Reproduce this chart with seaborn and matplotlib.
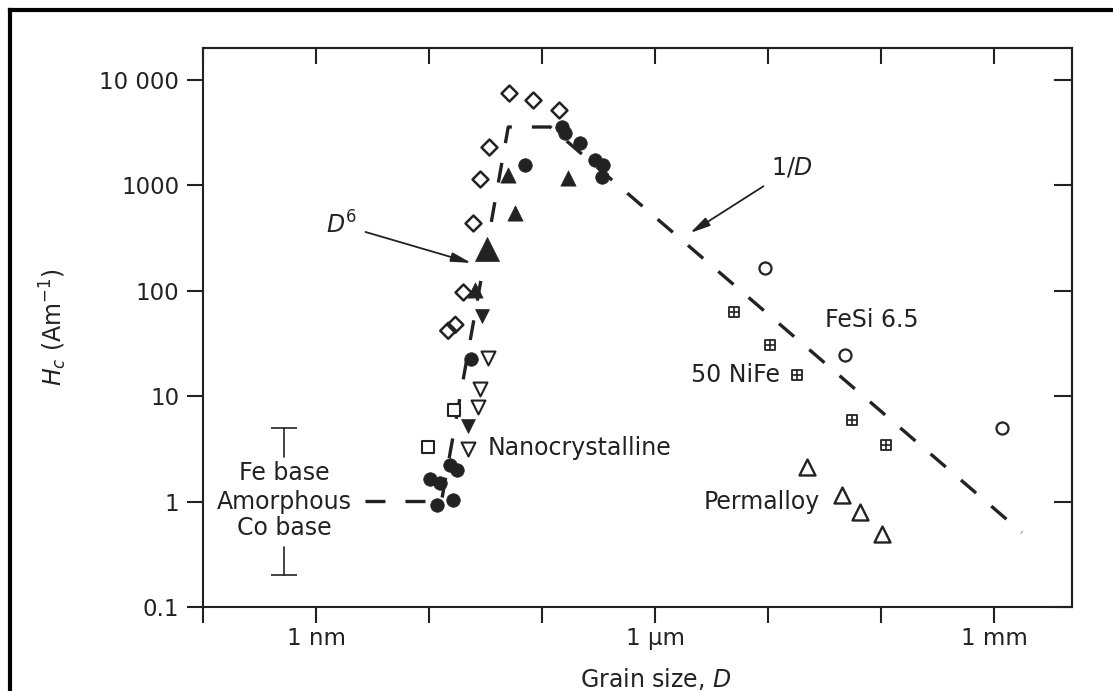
import numpy as np
import pandas as pd
import matplotlib
matplotlib.use("Agg")
import matplotlib.pyplot as plt
from matplotlib.ticker import NullLocator
from matplotlib.lines import Line2D
import seaborn as sns

# ---------------- data: grain size D (nm), coercivity Hc (A/m) ----------------
circ_D = [10.2, 12.5, 15.3, 17.7, 11.8, 16.3, 23.5, 70.8, 150, 160, 217, 294, 347, 340]
circ_H = [1.62, 1.51, 2.24, 2.01, 0.93, 1.04, 22.6, 1550, 3560, 3120, 2510, 1730, 1550, 1200]

tri_D = [25.5, 50.0, 57.7, 170]
tri_H = [102, 1250, 545, 1170]
tri_big_D = [32.6]
tri_big_H = [250]

tri_dn_D = [29.4, 22.1]
tri_dn_H = [57.7, 5.24]

tri_dn_open_D = [33.3, 28.3, 27.2, 22.1]
tri_dn_open_H = [23.1, 11.7, 7.94, 3.18]

sq_open_D = [16.6, 9.8]
sq_open_H = [7.43, 3.32]

dia_D = [51.1, 83.2, 141, 34.0, 28.3, 24.5, 20.0]
dia_H = [7470, 6410, 5150, 2300, 1145, 439, 97.4]
dia_pair_D = [14.7, 17.0]
dia_pair_H = [41.6, 47.4]

nife_D = [5000, 10400, 18060, 55400, 110700]
nife_H = [63, 30.7, 16.0, 5.98, 3.47]

fesi_D = [9400, 48000, 1.18e6]
fesi_H = [164, 24.7, 5.02]

perm_D = [22100, 45100, 65200, 102000]
perm_H = [2.14, 1.16, 0.787, 0.487]

curve_D = [2.72, 12.8, 50, 118, 1.77e6]
curve_H = [1, 1, 3560, 3560, 0.508]

amorph_D = 0.52
amorph_range = [0.2, 5]

x_ticks = [0.1, 1, 10, 100, 1e3, 1e4, 1e5, 1e6]
x_labels = ['', '1 nm', '', '', '1 \u00b5m', '', '', '1 mm']
y_ticks = [0.1, 1, 10, 100, 1000, 10000]
y_labels = ['0.1', '1', '10', '100', '1000', '10 000']

# ---------------- style ----------------
sns.set_style("ticks")
plt.rcParams['font.family'] = ['DejaVu Sans']
plt.rcParams['mathtext.fontset'] = 'dejavusans'
INK = '#222222'
FS = 17

fig = plt.figure(figsize=(11.13, 6.91), dpi=100)
ax = fig.add_axes([0.1828, 0.1216, 0.7803, 0.8090])
ax.set_xscale('log')
ax.set_yscale('log')
ax.set_xlim(0.1, 4.9e6)
ax.set_ylim(0.1, 2.0e4)

# dashed guide curve
sns.lineplot(x=curve_D, y=curve_H, ax=ax, color=INK, lw=2.4,
             linestyle=(0, (6.0, 6.0)), sort=False, errorbar=None, zorder=1)


def pts(D, H, marker, s, face, edge=INK, lw=1.5, z=3):
    sns.scatterplot(x=D, y=H, marker=marker, s=s, color=face, edgecolor=edge,
                    linewidth=lw, ax=ax, zorder=z, legend=False)


pts(circ_D, circ_H, 'o', 95, INK, lw=0.5)
pts(tri_D, tri_H, '^', 120, INK, lw=0.5)
pts(tri_big_D, tri_big_H, '^', 300, INK, lw=0.5)
pts(tri_dn_D, tri_dn_H, 'v', 100, INK, lw=0.5)
pts(tri_dn_open_D, tri_dn_open_H, 'v', 100, 'white', lw=1.5)
pts(sq_open_D, sq_open_H, 's', 63, 'white', lw=1.5)
pts(dia_D, dia_H, 'D', 66, 'white', lw=1.8)
pts(dia_pair_D, dia_pair_H, 'D', 66, 'none', lw=1.8)
pts(nife_D, nife_H, 's', 52, 'white', lw=1.3)
sns.scatterplot(x=nife_D, y=nife_H, marker='+', s=52, color=INK, linewidth=1.2,
                ax=ax, zorder=4, legend=False)
pts(fesi_D, fesi_H, 'o', 75, 'white', lw=1.6)
pts(perm_D, perm_H, '^', 132, 'white', lw=1.7)

# amorphous range bar
ax.plot([amorph_D, amorph_D], [amorph_range[1], 2.67], color=INK, lw=1.2)
ax.plot([amorph_D, amorph_D], [0.367, amorph_range[0]], color=INK, lw=1.2)
ax.plot([amorph_D, amorph_D], amorph_range, ls='none', marker='_', ms=19, mew=1.2, color=INK)

# labels
tk = dict(fontsize=FS, color=INK)
ax.text(amorph_D, 1.88, 'Fe base', ha='center', va='center', **tk)
ax.text(amorph_D, 1.0, 'Amorphous', ha='center', va='center', **tk)
ax.text(amorph_D, 0.567, 'Co base', ha='center', va='center', **tk)
ax.text(32.6, 3.25, 'Nanocrystalline', ha='left', va='center', **tk)
ax.text(12770, 16.0, '50 NiFe', ha='right', va='center', **tk)
ax.text(31940, 52.9, 'FeSi 6.5', ha='left', va='center', **tk)
ax.text(28840, 0.98, 'Permalloy', ha='right', va='center', **tk)

arr = dict(arrowstyle='-|>,head_length=0.6,head_width=0.14', lw=1.3, color=INK,
           mutation_scale=20, shrinkA=4, shrinkB=0)
ax.annotate('$D^6$', xy=(23.5, 183), xytext=(1.66, 420), ha='center', va='center',
            arrowprops=arr, **tk)
ax.annotate('1/$D$', xy=(2040, 352), xytext=(16300, 1455), ha='center', va='center',
            arrowprops=arr, **tk)

ax.text(-0.173, 0.5, '$H_c$ (Am$^{-1}$)', rotation=90, ha='center', va='center',
        transform=ax.transAxes, **tk)
ax.text(0.521, -0.129, 'Grain size, $D$', ha='center', va='center',
        transform=ax.transAxes, **tk)

# ticks & spines
ax.set_xticks(x_ticks)
ax.set_xticklabels(x_labels)
ax.set_yticks(y_ticks)
ax.set_yticklabels(y_labels)
ax.xaxis.set_minor_locator(NullLocator())
ax.yaxis.set_minor_locator(NullLocator())
ax.tick_params(axis='both', which='major', direction='out', length=11.5, width=1.5,
               color=INK, labelsize=16.5, labelcolor=INK, top=False, right=False)
ax.tick_params(axis='x', pad=3)
ax.tick_params(axis='y', pad=6)
for s in ax.spines.values():
    s.set_linewidth(1.5)
    s.set_color(INK)

secx = ax.secondary_xaxis('top')
secx.set_xticks(x_ticks)
secx.xaxis.set_minor_locator(NullLocator())
secx.tick_params(direction='in', length=11.5, width=1.5, color=INK, labeltop=False)
secx.spines['top'].set_linewidth(1.5)
secx.spines['top'].set_color(INK)

secy = ax.secondary_yaxis('right')
secy.set_yticks(y_ticks)
secy.yaxis.set_minor_locator(NullLocator())
secy.tick_params(direction='in', length=13, width=1.5, color=INK, labelright=False)
secy.spines['right'].set_linewidth(1.5)
secy.spines['right'].set_color(INK)

# outer page frame (left and top edges)
fx = 9.5 / 1113
fy = 1 - 9.5 / 691
fig.add_artist(Line2D([fx, fx], [0, fy], transform=fig.transFigure, color='black',
                      lw=3, solid_capstyle='projecting'))
fig.add_artist(Line2D([fx, 1], [fy, fy], transform=fig.transFigure, color='black',
                      lw=3, solid_capstyle='projecting'))

fig.savefig('out.png', dpi=100)
